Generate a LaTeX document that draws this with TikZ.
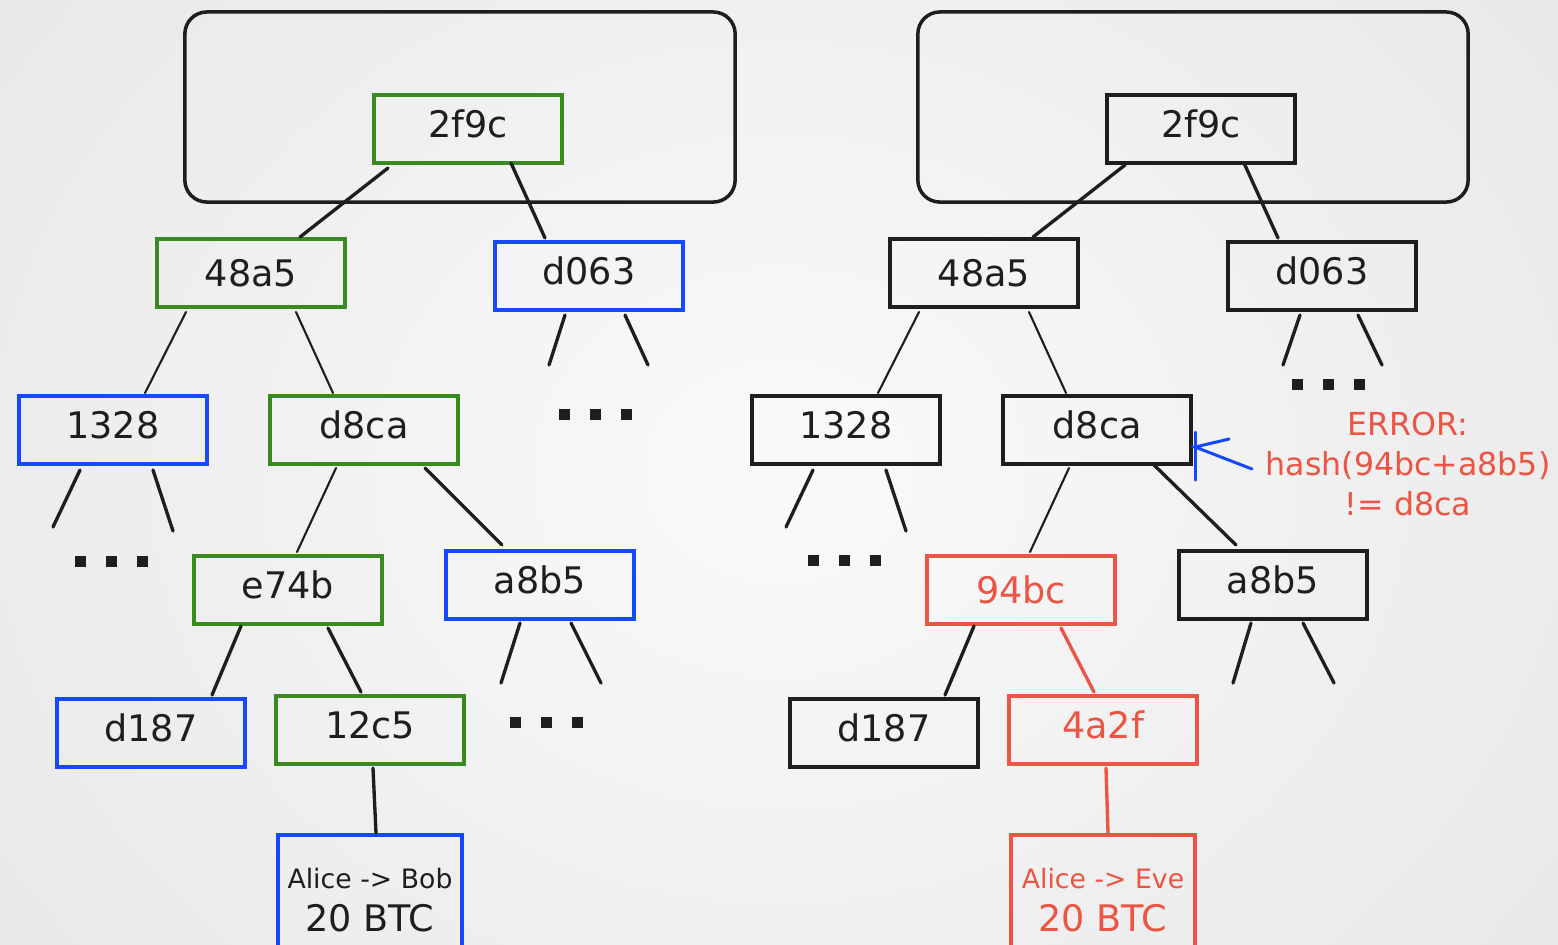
\documentclass[tikz,border=0pt]{standalone}
\usepackage{fontspec}
\setmainfont{DejaVu Sans}
\usetikzlibrary{calc}
\definecolor{ink}{RGB}{30,30,30}
\definecolor{hgreen}{RGB}{58,138,34}
\definecolor{hblue}{RGB}{22,72,255}
\definecolor{hred}{RGB}{236,84,68}
\definecolor{bgout}{RGB}{233,233,233}
\definecolor{bgin}{RGB}{250,250,250}
\newcommand\tripledot[2]{%
  \foreach \dx in {0,31,62} \fill[ink] ({#1+\dx-5},{#2-5}) rectangle ++(11,11);}
\tikzset{
  hbox/.style={draw=ink, line width=1.15pt, minimum width=1.88cm, minimum height=0.68cm,
    inner sep=0pt, text=ink, font=\fontsize{10.4}{12}\selectfont,
    text height=0.62em, text depth=0.16em},
  centred/.style={text height=0.76em, text depth=0.02em},
  txbox/.style={draw=ink, line width=1.15pt, minimum width=1.83cm, minimum height=1.3cm,
    inner sep=0pt, align=center, anchor=north, font=\fontsize{10.4}{12.2}\selectfont},
  frame/.style={draw=ink, line width=1pt, rounded corners=0.22cm,
    minimum width=5.5cm, minimum height=1.9cm},
  edge/.style={draw=ink, line width=0.95pt, line cap=round},
  thin/.style={line width=0.6pt},
}
\begin{document}
\begin{tikzpicture}[x=0.01cm,y=-0.01cm]
\useasboundingbox (0,0) rectangle (1558,944);
\clip (0,0) rectangle (1558,944);
\shade[inner color=bgin, outer color=bgout] (-150,-300) rectangle (1708,1244);

% ---------------- honest tree ----------------
\node[frame] (Lblock) at (460,107) {};
\node[hbox, draw=hgreen] (L2f9c) at (468,129) {2f9c};
\node[hbox, centred, draw=hgreen] (L48a5) at (251,273) {48a5};
\node[hbox, draw=hblue]  (Ld063) at (589,276) {d063};
\node[hbox, draw=hblue]  (L1328) at (113,430) {1328};
\node[hbox, draw=hgreen] (Ld8ca) at (364,430) {d8ca};
\node[hbox, draw=hgreen] (Le74b) at (288,590) {e74b};
\node[hbox, draw=hblue]  (La8b5) at (540,585) {a8b5};
\node[hbox, draw=hblue]  (Ld187) at (151,733) {d187};
\node[hbox, draw=hgreen] (L12c5) at (370,730) {12c5};
\node[txbox, draw=hblue, text=ink] (Ltx) at (370,833)
  {{\fontsize{7.6}{9}\selectfont Alice -> Bob}\\20 BTC};

\draw[edge] ($(L2f9c)+(-80,39)$) -- ($(L48a5)+(49,-36)$);
\draw[edge] ($(L2f9c)+(43,34)$) -- ($(Ld063)+(-44,-38)$);
\draw[edge,thin] ($(L48a5)+(-65,39)$) -- ($(L1328)+(32,-37)$);
\draw[edge,thin] ($(L48a5)+(45,39)$) -- ($(Ld8ca)+(-31,-37)$);
\draw[edge,thin] ($(Ld8ca)+(-28,38)$) -- ($(Le74b)+(9,-38)$);
\draw[edge] ($(Ld8ca)+(61,38)$) -- ($(La8b5)+(-38,-40)$);
\draw[edge] ($(Le74b)+(-47,36)$) -- ($(Ld187)+(61,-38)$);
\draw[edge] ($(Le74b)+(40,38)$) -- ($(L12c5)+(-9,-38)$);
\draw[edge] ($(L12c5)+(3,38)$) -- ($(Ltx.north)+(6,0)$);

\coordinate (Ld063a) at (549,365); \coordinate (Ld063b) at (648,365);
\coordinate (L1328a) at (53,527);  \coordinate (L1328b) at (173,531);
\coordinate (La8b5a) at (501,683); \coordinate (La8b5b) at (601,683);
\draw[edge] ($(Ld063)+(-24,39)$) -- (Ld063a);
\draw[edge] ($(Ld063)+(36,39)$) -- (Ld063b);
\draw[edge] ($(L1328)+(-33,40)$) -- (L1328a);
\draw[edge] ($(L1328)+(40,40)$) -- (L1328b);
\draw[edge] ($(La8b5)+(-20,38)$) -- (La8b5a);
\draw[edge] ($(La8b5)+(31,38)$) -- (La8b5b);
\tripledot{564}{414}
\tripledot{80}{561}
\tripledot{515}{722}

% ---------------- tampered tree ----------------
\node[frame] (Rblock) at (1193,107) {};
\node[hbox] (R2f9c) at (1201,129) {2f9c};
\node[hbox, centred] (R48a5) at (984,273) {48a5};
\node[hbox] (Rd063) at (1322,276) {d063};
\node[hbox] (R1328) at (846,430) {1328};
\node[hbox] (Rd8ca) at (1097,430) {d8ca};
\node[hbox, centred, draw=hred, text=hred] (R94bc) at (1021,590) {94bc};
\node[hbox] (Ra8b5) at (1273,585) {a8b5};
\node[hbox] (Rd187) at (884,733) {d187};
\node[hbox, draw=hred, text=hred] (R4a2f) at (1103,730) {4a2f};
\node[txbox, draw=hred, text=hred] (Rtx) at (1103,833)
  {{\fontsize{7.6}{9}\selectfont Alice -> Eve}\\20 BTC};

\draw[edge] ($(R2f9c)+(-76,36)$) -- ($(R48a5)+(49,-36)$);
\draw[edge] ($(R2f9c)+(43,34)$) -- ($(Rd063)+(-44,-38)$);
\draw[edge,thin] ($(R48a5)+(-65,39)$) -- ($(R1328)+(32,-37)$);
\draw[edge,thin] ($(R48a5)+(45,39)$) -- ($(Rd8ca)+(-31,-37)$);
\draw[edge,thin] ($(Rd8ca)+(-28,38)$) -- ($(R94bc)+(9,-38)$);
\draw[edge] ($(Rd8ca)+(56,34)$) -- ($(Ra8b5)+(-37,-40)$);
\draw[edge] ($(R94bc)+(-47,36)$) -- ($(Rd187)+(61,-38)$);
\draw[edge, draw=hred] ($(R94bc)+(40,38)$) -- ($(R4a2f)+(-9,-38)$);
\draw[edge, draw=hred] ($(R4a2f)+(3,38)$) -- ($(Rtx.north)+(5,0)$);

\coordinate (R1328a) at (786,527); \coordinate (R1328b) at (906,531);
\coordinate (Rd063a) at (1283,365); \coordinate (Rd063b) at (1382,365);
\coordinate (Ra8b5a) at (1233,683); \coordinate (Ra8b5b) at (1334,683);
\draw[edge] ($(Rd063)+(-22,39)$) -- (Rd063a);
\draw[edge] ($(Rd063)+(36,39)$) -- (Rd063b);
\draw[edge] ($(R1328)+(-33,40)$) -- (R1328a);
\draw[edge] ($(R1328)+(40,40)$) -- (R1328b);
\draw[edge] ($(Ra8b5)+(-22,38)$) -- (Ra8b5a);
\draw[edge] ($(Ra8b5)+(30,38)$) -- (Ra8b5b);
\tripledot{1297}{384}
\tripledot{813}{560}

% error annotation with hand-drawn pointer
\node[text=hred, align=center, font=\fontsize{9}{11.4}\selectfont] (err) at (1408,464)
  {ERROR:\\hash(94bc+a8b5)\\!= d8ca};
\coordinate (ptip) at ($(Rd8ca.east)+(2,17)$);
\coordinate (ptail) at (1252,469);
\draw[draw=hblue, line width=0.85pt, line cap=round] (ptail) -- (ptip) -- ++(34,-8);
\draw[draw=hblue, line width=0.85pt, line cap=round] ($(ptip)+(0,-15)$) -- ++(0,48);
\end{tikzpicture}
\end{document}
